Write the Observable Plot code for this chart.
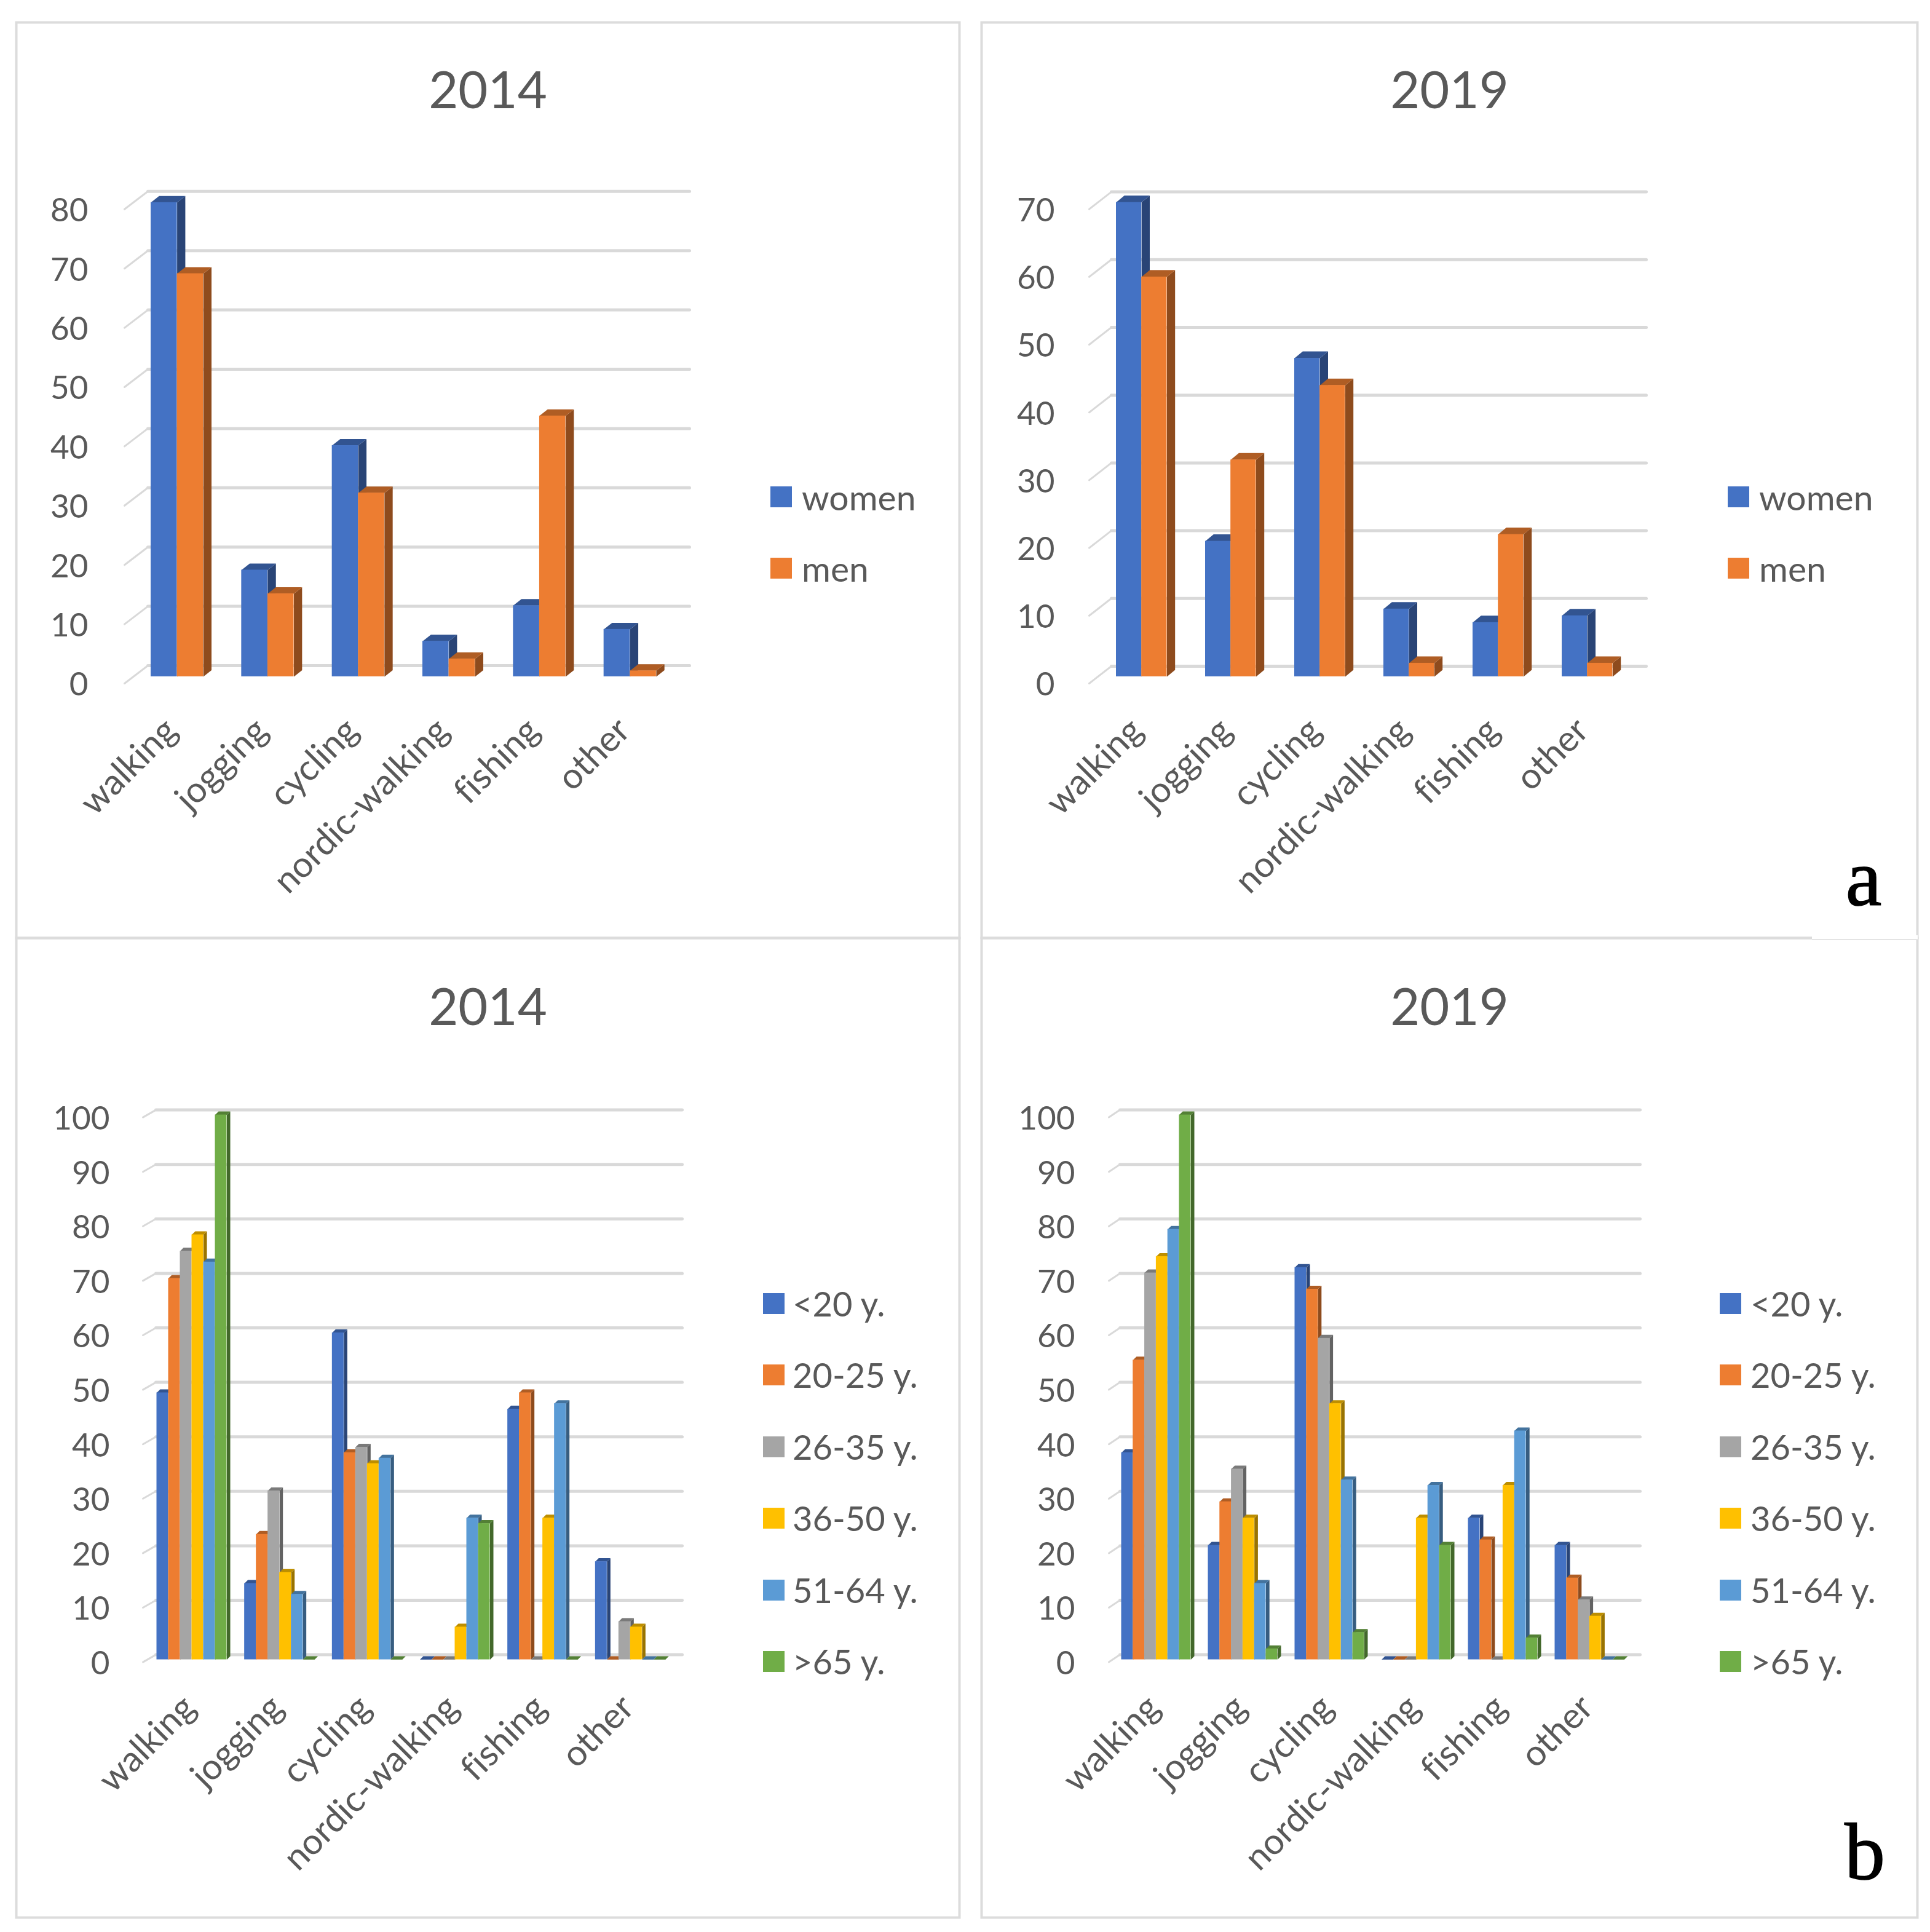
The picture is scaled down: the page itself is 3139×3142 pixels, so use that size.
<!DOCTYPE html>
<html>
<head>
<meta charset="utf-8">
<script src="https://cdn.jsdelivr.net/npm/d3@7"></script>
<script src="https://cdn.jsdelivr.net/npm/@observablehq/plot@0.6"></script>
<style>
  html, body { margin: 0; padding: 0; background: #fff; }
  #page { position: relative; width: 3139px; height: 3142px; overflow: hidden; font-family: Lato, sans-serif; color: #595959; font-variant-ligatures: none; }
  #page svg { position: absolute; max-width: none; font-variant-ligatures: none; }
  .sw { position: absolute; }
  .lt { position: absolute; line-height: 1; white-space: nowrap; transform: translateY(-50%); }
  .tag { position: absolute; font-family: "Liberation Serif", serif; font-size: 132px; line-height: 1; color: #000; transform: translateX(-50%); -webkit-text-stroke: 1.5px #000; }
</style>
</head>
<body>
<div id="page"></div>
<script>
const categories = ["walking", "jogging", "cycling", "nordic-walking", "fishing", "other"];

const genderLabels = ["women", "men"];
const genderColors = ["#4472C4", "#ED7D31"];
const women2014 = [80, 18, 39, 6, 12, 8];
const men2014 = [68, 14, 31, 3, 44, 1];
const women2019 = [70, 20, 47, 10, 8, 9];
const men2019 = [59, 32, 43, 2, 21, 2];

const ageLabels = ["<20 y.", "20-25 y.", "26-35 y.", "36-50 y.", "51-64 y.", ">65 y."];
const ageColors = ["#4472C4", "#ED7D31", "#A5A5A5", "#FFC000", "#5B9BD5", "#70AD47"];
const under20_2014 = [49, 14, 60, 0, 46, 18];
const age20_25_2014 = [70, 23, 38, 0, 49, 0];
const age26_35_2014 = [75, 31, 39, 0, 0, 7];
const age36_50_2014 = [78, 16, 36, 6, 26, 6];
const age51_64_2014 = [73, 12, 37, 26, 47, 0];
const over65_2014 = [100, 0, 0, 25, 0, 0];
const under20_2019 = [38, 21, 72, 0, 26, 21];
const age20_25_2019 = [55, 29, 68, 0, 22, 15];
const age26_35_2019 = [71, 35, 59, 0, 0, 11];
const age36_50_2019 = [74, 26, 47, 26, 32, 8];
const age51_64_2019 = [79, 14, 33, 32, 42, 0];
const over65_2019 = [100, 2, 5, 21, 4, 0];

const ticks80 = d3.range(0, 81, 10);
const ticks70 = d3.range(0, 71, 10);
const ticks100 = d3.range(0, 101, 10);

const panels = [
  { title: "2014", series: [women2014, men2014], labels: genderLabels, colors: genderColors, ticks: ticks80,
    box: [26, 36, 1560, 1525], gridL: 240, gridR: 1124, gridEnd: 1121, frontL: 202, labelR: 143,
    y0: 1100, unit: 9.64, backUp: 18, frontDown: 11, barL: 245, barW: 42.6, depthX: 13.3, depthY: 10.5,
    catTop: 1178, catDx: -10, titleY: 149, swX: 1253, txtX: 1304, legendSize: 57, rowY: [808, 924] },
  { title: "2019", series: [women2019, men2019], labels: genderLabels, colors: genderColors, ticks: ticks70,
    box: [1596, 36, 3118, 1525], gridL: 1807, gridR: 2677, gridEnd: 2677, frontL: 1771, labelR: 1715,
    y0: 1100, unit: 11.02, backUp: 17, frontDown: 11, barL: 1815, barW: 41.2, depthX: 13.3, depthY: 11,
    catTop: 1178, catDx: -8, titleY: 149, swX: 2810, txtX: 2861, legendSize: 57, rowY: [808, 924] },
  { title: "2014", series: [under20_2014, age20_25_2014, age26_35_2014, age36_50_2014, age51_64_2014, over65_2014],
    labels: ageLabels, colors: ageColors, ticks: ticks100,
    box: [26, 1525, 1560, 3118], gridL: 253, gridR: 1109, gridEnd: 1109, frontL: 232, labelR: 178,
    y0: 2698.6, unit: 8.86, backUp: 8, frontDown: 4, barL: 254.5, barW: 19, depthX: 5.5, depthY: 5.5,
    catTop: 2767, catDx: -4, titleY: 1640, swX: 1241, txtX: 1289, legendSize: 56, rowY: [2120, 2236, 2353, 2469, 2586, 2702] },
  { title: "2019", series: [under20_2019, age20_25_2019, age26_35_2019, age36_50_2019, age51_64_2019, over65_2019],
    labels: ageLabels, colors: ageColors, ticks: ticks100,
    box: [1596, 1525, 3118, 3118], gridL: 1821, gridR: 2667, gridEnd: 2667, frontL: 1803, labelR: 1748,
    y0: 2698.6, unit: 8.86, backUp: 8, frontDown: 4, barL: 1823.5, barW: 18.8, depthX: 5.7, depthY: 5.5,
    catTop: 2767, catDx: -4, titleY: 1640, swX: 2797, txtX: 2847, legendSize: 56, rowY: [2120, 2236, 2353, 2469, 2586, 2702] }
];

function shade(c, k) {
  const r = d3.rgb(c);
  return d3.rgb(r.r * k, r.g * k, r.b * k).formatHex();
}

const page = document.getElementById("page");

function drawPanel(p) {
  const [bx0, by0, bx1, by1] = p.box;
  const pitch = (p.gridR - p.gridL) / 6;
  const max = d3.max(p.ticks);
  const ux = px => px / pitch;       // pixels -> category units
  const uy = px => px / p.unit;      // pixels -> value units
  const off = ux(p.barL - p.gridL);
  const bw = ux(p.barW);
  const ddx = ux(p.depthX);
  const ddy = uy(p.depthY);

  const bars = [];
  p.series.forEach((vals, s) => vals.forEach((v, c) => {
    const left = c + off + s * bw;
    bars.push({ id: s + "-" + c, left, right: left + bw, v, color: p.colors[s] });
  }));
  const sides = bars.flatMap(b => [
    { id: b.id, x: b.right, y: 0, f: shade(b.color, 0.6) },
    { id: b.id, x: b.right + ddx, y: ddy, f: shade(b.color, 0.6) },
    { id: b.id, x: b.right + ddx, y: b.v + ddy, f: shade(b.color, 0.6) },
    { id: b.id, x: b.right, y: b.v, f: shade(b.color, 0.6) }
  ]);
  const tops = bars.flatMap(b => [
    { id: b.id, x: b.left, y: b.v, f: shade(b.color, 0.74) },
    { id: b.id, x: b.right, y: b.v, f: shade(b.color, 0.74) },
    { id: b.id, x: b.right + ddx, y: b.v + ddy, f: shade(b.color, 0.74) },
    { id: b.id, x: b.left + ddx, y: b.v + ddy, f: shade(b.color, 0.74) }
  ]);
  const back = uy(p.backUp), front = uy(p.frontDown);
  const slants = p.ticks.flatMap(t => [
    { t, x: ux(p.frontL - p.gridL), y: t - front },
    { t, x: 0, y: t + back }
  ]);
  const walls = p.ticks.flatMap(t => [{ t, x: 0, y: t + back }, { t, x: ux(p.gridEnd - p.gridL), y: t + back }]);
  const groupW = p.series.length * bw;

  const plot = Plot.plot({
    width: bx1 - bx0,
    height: by1 - by0,
    marginLeft: 0, marginRight: 0, marginTop: 0, marginBottom: 0,
    style: { background: "none", fontFamily: "Lato, sans-serif", color: "#595959", overflow: "visible" },
    x: { domain: [0, 6], range: [p.gridL - bx0, p.gridR - bx0], axis: null },
    y: { domain: [0, max], range: [p.y0 - by0, p.y0 - by0 - p.unit * max] },
    color: { type: "identity" },
    marks: [
      Plot.frame({ stroke: "#dcdcdc", strokeWidth: 4 }),
      Plot.line(slants, { x: "x", y: "y", z: "t", stroke: "#d9d9d9", strokeWidth: 3 }),
      Plot.line(walls, { x: "x", y: "y", z: "t", stroke: "#d9d9d9", strokeWidth: 5 }),
      Plot.axisY(p.ticks, { anchor: "left", tickSize: 0, tickPadding: 0, label: null, fontSize: 53, fill: "#595959", dx: p.labelR - bx0, dy: p.frontDown + 3, tickFormat: d => String(d) }),
      Plot.line(sides, { x: "x", y: "y", z: "id", fill: "f", stroke: "none" }),
      Plot.line(tops, { x: "x", y: "y", z: "id", fill: "f", stroke: "none" }),
      Plot.rect(bars, { x1: "left", x2: "right", y1: 0, y2: "v", fill: "color" }),
      Plot.text(categories, {
        x: (d, i) => i + off + groupW / 2 + ux(p.catDx),
        y: () => -(p.catTop - p.y0) / p.unit,
        text: d => d, rotate: -45, textAnchor: "end", lineAnchor: "middle", fontSize: 58, fill: "#595959"
      }),
      Plot.text([p.title], { frameAnchor: "top", lineAnchor: "middle", dy: p.titleY - by0, text: d => d, fontSize: 83, fill: "#595959" })
    ]
  });
  plot.style.left = bx0 + "px";
  plot.style.top = by0 + "px";
  page.appendChild(plot);

  p.labels.forEach((lab, i) => {
    const sw = document.createElement("div");
    sw.className = "sw";
    sw.style.cssText = `left:${p.swX}px;top:${p.rowY[i] - 17}px;width:35px;height:34px;background:${p.colors[i]}`;
    page.appendChild(sw);
    const t = document.createElement("div");
    t.className = "lt";
    t.style.left = p.txtX + "px";
    t.style.top = p.rowY[i] + "px";
    t.style.fontSize = p.legendSize + "px";
    t.textContent = lab;
    page.appendChild(t);
  });
}

panels.forEach(drawPanel);

const patch = document.createElement("div");
patch.style.cssText = "position:absolute;left:2947px;top:1521px;width:172px;height:8px;background:#fff;border-bottom:2px solid #e4e4e4;box-sizing:border-box";
page.appendChild(patch);

[["a", 3031, 1362], ["b", 3033, 2946]].forEach(([s, x, y]) => {
  const d = document.createElement("div");
  d.className = "tag";
  d.textContent = s;
  d.style.left = x + "px";
  d.style.top = y + "px";
  page.appendChild(d);
});
</script>
</body>
</html>
